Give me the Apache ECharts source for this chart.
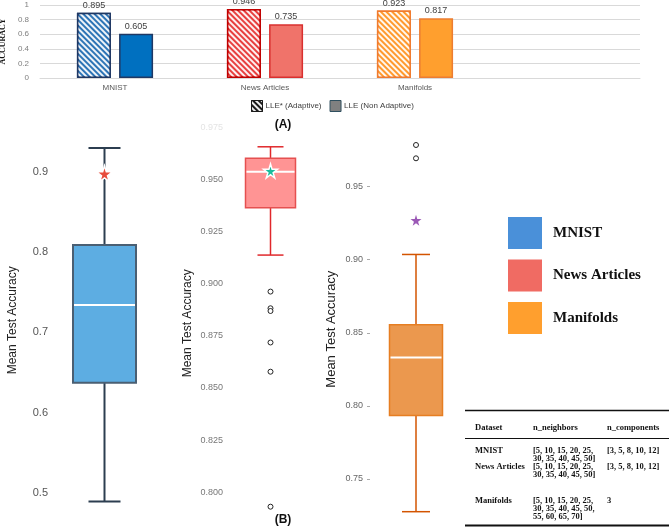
<!DOCTYPE html>
<html>
<head>
<meta charset="utf-8">
<script src="https://cdn.jsdelivr.net/npm/echarts@6/dist/echarts.min.js"></script>
<style>
  html, body { margin: 0; padding: 0; background: #fff; }
  #main { width: 669px; height: 528px; }
</style>
</head>
<body>
<div id="main"></div>
<script>
// ---- (A) bar chart ----
const datasets = ['MNIST', 'News Articles', 'Manifolds'];
const adaptiveAcc = [0.895, 0.946, 0.923];     // LLE* (Adaptive)
const nonAdaptiveAcc = [0.605, 0.735, 0.817];  // LLE (Non Adaptive)
const barTicks = [0, 0.2, 0.4, 0.6, 0.8, 1];

// ---- (B) box plots: [lower whisker, Q1, median, Q3, upper whisker] ----
const mnistBox = [0.489, 0.637, 0.734, 0.809, 0.930];
const newsBox = [0.9137, 0.9364, 0.9536, 0.9601, 0.9656];
const manifoldsBox = [0.7276, 0.7934, 0.8331, 0.8555, 0.9036];
const newsOutliers = [0.8962, 0.8882, 0.8869, 0.8718, 0.8578, 0.7931];
const manifoldsOutliers = [0.9785, 0.9694];
const mnistStar = 0.898;
const newsStar = 0.954;
const manifoldsStar = 0.927;
const mnistTicks = [0.5, 0.6, 0.7, 0.8, 0.9];
const newsTicks = [0.800, 0.825, 0.850, 0.875, 0.900, 0.925, 0.950, 0.975];
const manifoldsTicks = [0.75, 0.80, 0.85, 0.90, 0.95];

// ---- parameter table ----
const tableHeader = ['Dataset', 'n_neighbors', 'n_components'];
const tableRows = [
  ['MNIST', '[5, 10, 15, 20, 25,\n30, 35, 40, 45, 50]', '[3, 5, 8, 10, 12]'],
  ['News Articles', '[5, 10, 15, 20, 25,\n30, 35, 40, 45, 50]', '[3, 5, 8, 10, 12]'],
  ['Manifolds', '[5, 10, 15, 20, 25,\n30, 35, 40, 45, 50,\n55, 60, 65, 70]', '3']
];

// styles
const hatchFill = ['#2E75B6', '#E8403F', '#FF9A2E'];
const hatchEdge = ['#1F3864', '#C00000', '#F07B2E'];
const solidFill = ['#0070C0', '#F0736A', '#FF9F2E'];
const solidEdge = ['#1F3864', '#D9302F', '#ED7D31'];
const hatchDecal = {
  symbol: 'rect',
  symbolSize: 1,
  dashArrayX: [1, 0],
  dashArrayY: [2, 2],
  rotation: Math.PI / 4,
  color: 'rgba(255,255,255,0.92)'
};
const starPath = 'path://M50,0 L61,35 L98,35 L68,57 L79,91 L50,70 L21,91 L32,57 L2,35 L39,35 Z';
const sans = 'Liberation Sans';
const serif = 'Liberation Serif';

function boxItem(st) {
  return function (params, api) {
    const c = api.value(0);
    const lo = api.coord([c, api.value(1)]);
    const q1 = api.coord([c, api.value(2)]);
    const md = api.coord([c, api.value(3)]);
    const q3 = api.coord([c, api.value(4)]);
    const hi = api.coord([c, api.value(5)]);
    const x = lo[0];
    const hw = st.boxW / 2, cw = st.capW / 2;
    const ls = { stroke: st.line, lineWidth: st.lw };
    return {
      type: 'group',
      children: [
        { type: 'line', shape: { x1: x, y1: lo[1], x2: x, y2: q1[1] }, style: ls },
        { type: 'line', shape: { x1: x, y1: q3[1], x2: x, y2: hi[1] }, style: ls },
        { type: 'line', shape: { x1: x - cw, y1: lo[1], x2: x + cw, y2: lo[1] }, style: ls },
        { type: 'line', shape: { x1: x - cw, y1: hi[1], x2: x + cw, y2: hi[1] }, style: ls },
        { type: 'rect', shape: { x: x - hw, y: q3[1], width: st.boxW, height: q1[1] - q3[1] },
          style: { fill: st.fill, stroke: st.edge, lineWidth: st.lw } },
        { type: 'line', shape: { x1: x - hw + 1, y1: md[1], x2: x + hw - 1, y2: md[1] },
          style: { stroke: '#fff', lineWidth: 2 } }
      ]
    };
  };
}

function boxYAxis(idx, min, max, ticks, fmt, o) {
  return {
    gridIndex: idx, type: 'value', min: min, max: max,
    splitLine: { show: false },
    axisLine: { show: false },
    axisTick: { show: !!o.tick, length: 3, lineStyle: { color: '#aaa' }, customValues: ticks },
    axisLabel: {
      customValues: ticks, margin: o.margin, fontSize: o.fs, fontFamily: sans,
      color: function (v) { return v > 0.97 && idx === 2 ? '#e4e4e4' : o.color; },
      formatter: function (v) { return v.toFixed(fmt); }
    },
    name: 'Mean Test Accuracy', nameLocation: 'middle', nameGap: o.gap,
    nameTextStyle: { fontSize: o.nfs, color: '#222', fontFamily: sans }
  };
}

// table graphics
const tableGraphics = [];
const colX = [475, 533, 607];
const rowY = [446.5, 462.5, 496.5];
const tableFont = 'bold 8.5px "Liberation Serif"';
tableGraphics.push({ type: 'line', shape: { x1: 465, y1: 410.5, x2: 669, y2: 410.5 }, style: { stroke: '#111', lineWidth: 1.5 } });
tableGraphics.push({ type: 'line', shape: { x1: 465, y1: 438.5, x2: 669, y2: 438.5 }, style: { stroke: '#111', lineWidth: 1 } });
tableGraphics.push({ type: 'line', shape: { x1: 465, y1: 525.5, x2: 669, y2: 525.5 }, style: { stroke: '#111', lineWidth: 2 } });
tableHeader.forEach(function (h, j) {
  tableGraphics.push({ type: 'text', x: colX[j], y: 427.5,
    style: { text: h, font: tableFont, fill: '#111', verticalAlign: 'middle' } });
});
tableRows.forEach(function (r, i) {
  r.forEach(function (cell, j) {
    tableGraphics.push({ type: 'text', x: colX[j], y: rowY[i],
      style: { text: cell, font: tableFont, lineHeight: 8, fill: '#111', verticalAlign: 'top' } });
  });
});

const chart = echarts.init(document.getElementById('main'));
chart.setOption({
  animation: false,
  textStyle: { fontFamily: sans },
  grid: [
    { left: 40, right: 29, top: 5, height: 73, outerBoundsMode: 'none' },
    { left: 62, width: 85, top: 124, height: 392.7, outerBoundsMode: 'none' },
    { left: 230, width: 81, top: 123, height: 400.6, outerBoundsMode: 'none' },
    { left: 370, width: 92, top: 135.5, height: 387.3, outerBoundsMode: 'none' }
  ],
  legend: [
    {
      left: 246, top: 95, itemWidth: 11, itemHeight: 11, itemGap: 8, icon: 'rect',
      selectedMode: false,
      textStyle: { fontSize: 8, color: '#404040', fontFamily: sans, padding: [0, 0, 0, -2] },
      data: [
        { name: 'LLE* (Adaptive)', itemStyle: { color: '#1a1a1a', borderColor: '#1a1a1a', borderWidth: 1, decal: hatchDecal } },
        { name: 'LLE (Non Adaptive)', itemStyle: { color: '#808080', borderColor: '#2F4F5F', borderWidth: 1 } }
      ]
    },
    {
      left: 503, top: 212, orient: 'vertical', itemWidth: 34, itemHeight: 32, itemGap: 10.5,
      icon: 'rect', selectedMode: false,
      textStyle: { fontFamily: serif, fontWeight: 'bold', fontSize: 15, color: '#111', padding: [0, 0, 0, 6] },
      data: [
        { name: 'MNIST', itemStyle: { color: '#4A90D9' } },
        { name: 'News Articles', itemStyle: { color: '#F06B63' } },
        { name: 'Manifolds', itemStyle: { color: '#FF9F2E' } }
      ]
    }
  ],
  xAxis: [
    {
      gridIndex: 0, type: 'category', data: datasets, max: 3,
      axisLine: { lineStyle: { color: '#D9D9D9' } },
      axisTick: { show: false },
      axisLabel: { fontSize: 8, color: '#595959', margin: 6,
        formatter: function (v) { return v || ''; } }
    },
    { gridIndex: 1, type: 'category', data: ['MNIST'], show: false },
    { gridIndex: 2, type: 'category', data: ['News Articles'], show: false },
    { gridIndex: 3, type: 'category', data: ['Manifolds'], show: false }
  ],
  yAxis: [
    {
      gridIndex: 0, type: 'value', min: 0, max: 1, interval: 0.2,
      splitLine: { lineStyle: { color: '#D9D9D9' } },
      axisLabel: { fontSize: 8, color: '#7F7F7F', margin: 11, customValues: barTicks },
      name: 'ACCURACY', nameLocation: 'middle', nameGap: 31,
      nameTextStyle: { fontFamily: serif, fontWeight: 'bold', fontSize: 8, color: '#111' }
    },
    boxYAxis(1, 0.47, 0.96, mnistTicks, 1, { margin: 14, fs: 11, color: '#555', gap: 43, nfs: 12 }),
    boxYAxis(2, 0.785, 0.977, newsTicks, 3, { margin: 7, fs: 9, color: '#777', gap: 36, nfs: 12 }),
    boxYAxis(3, 0.72, 0.985, manifoldsTicks, 2, { margin: 7, fs: 9, color: '#666', gap: 32, nfs: 13, tick: true })
  ],
  series: [
    {
      name: 'LLE* (Adaptive)', type: 'bar', xAxisIndex: 0, yAxisIndex: 0,
      barWidth: 34, barGap: '24%',
      label: { show: true, position: 'top', distance: 3, fontSize: 9, color: '#404040',
        formatter: function (p) { return p.value.toFixed(3); } },
      data: adaptiveAcc.map(function (v, i) {
        return { value: v, itemStyle: { color: hatchFill[i], borderColor: hatchEdge[i], borderWidth: 1.5, decal: hatchDecal } };
      })
    },
    {
      name: 'LLE (Non Adaptive)', type: 'bar', xAxisIndex: 0, yAxisIndex: 0,
      barWidth: 34,
      label: { show: true, position: 'top', distance: 3, fontSize: 9, color: '#404040',
        formatter: function (p) { return p.value.toFixed(3); } },
      data: nonAdaptiveAcc.map(function (v, i) {
        return { value: v, itemStyle: { color: solidFill[i], borderColor: solidEdge[i], borderWidth: 1.5 } };
      })
    },
    {
      name: 'MNIST', type: 'custom', xAxisIndex: 1, yAxisIndex: 1, z: 2,
      renderItem: boxItem({ boxW: 63, capW: 32, fill: '#5DADE2', edge: '#4A5F73', line: '#2C3E50', lw: 2 }),
      encode: { x: 0, y: [1, 2, 3, 4, 5] },
      data: [[0].concat(mnistBox)]
    },
    {
      name: 'News Articles', type: 'custom', xAxisIndex: 2, yAxisIndex: 2, z: 2,
      renderItem: boxItem({ boxW: 50, capW: 26, fill: '#FF9494', edge: '#E55050', line: '#E0282B', lw: 1.5 }),
      encode: { x: 0, y: [1, 2, 3, 4, 5] },
      data: [[0].concat(newsBox)]
    },
    {
      name: 'Manifolds', type: 'custom', xAxisIndex: 3, yAxisIndex: 3, z: 2,
      renderItem: boxItem({ boxW: 53, capW: 28, fill: '#EB984E', edge: '#E67E22', line: '#D35400', lw: 1.5 }),
      encode: { x: 0, y: [1, 2, 3, 4, 5] },
      data: [[0].concat(manifoldsBox)]
    },
    {
      type: 'scatter', xAxisIndex: 2, yAxisIndex: 2, z: 5, symbol: 'circle', symbolSize: 5,
      itemStyle: { color: '#fff', borderColor: '#222', borderWidth: 1, opacity: 1 },
      data: newsOutliers.map(function (v) { return [0, v]; })
    },
    {
      type: 'scatter', xAxisIndex: 3, yAxisIndex: 3, z: 5, symbol: 'circle', symbolSize: 5,
      itemStyle: { color: '#fff', borderColor: '#222', borderWidth: 1, opacity: 1 },
      data: manifoldsOutliers.map(function (v) { return [0, v]; })
    },
    {
      type: 'scatter', xAxisIndex: 1, yAxisIndex: 1, z: 5, symbol: starPath, symbolSize: 16,
      itemStyle: { color: '#E74C3C', borderColor: '#fff', borderWidth: 1.5, opacity: 1 },
      data: [[0, mnistStar]]
    },
    {
      type: 'scatter', xAxisIndex: 2, yAxisIndex: 2, z: 5, symbol: starPath, symbolSize: 14,
      itemStyle: { color: '#1ABC9C', borderColor: '#fff', borderWidth: 1.5, opacity: 1 },
      data: [[0, newsStar]]
    },
    {
      type: 'scatter', xAxisIndex: 3, yAxisIndex: 3, z: 5, symbol: starPath, symbolSize: 11,
      itemStyle: { color: '#9B59B6', opacity: 1 },
      data: [[0, manifoldsStar]]
    }
  ],
  graphic: [
    { type: 'text', x: 283, y: 125, style: { text: '(A)', font: 'bold 12px "Liberation Sans"', fill: '#111', align: 'center', verticalAlign: 'middle' } },
    { type: 'text', x: 283, y: 520, style: { text: '(B)', font: 'bold 12px "Liberation Sans"', fill: '#111', align: 'center', verticalAlign: 'middle' } }
  ].concat(tableGraphics)
});
</script>
</body>
</html>
